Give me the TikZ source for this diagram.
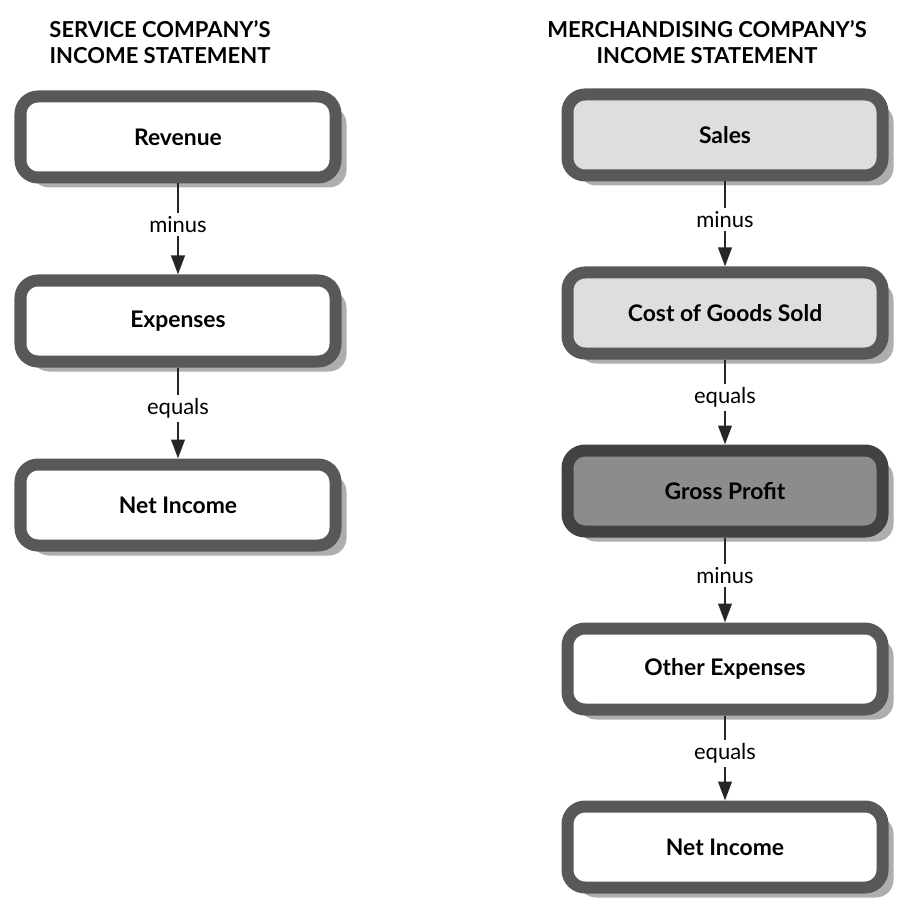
\documentclass[tikz,border=0pt]{standalone}
\usepackage{fontspec}
\setmainfont{Lato}
\usepackage{xcolor}
\definecolor{BoxEdge}{RGB}{88,88,88}
\definecolor{DarkEdge}{RGB}{66,66,66}
\definecolor{ShadowGray}{RGB}{165,165,165}
\definecolor{LightFill}{RGB}{222,222,222}
\definecolor{DarkFill}{RGB}{140,140,140}
\usetikzlibrary{positioning}
\usetikzlibrary{shadows}
\usetikzlibrary{arrows.meta}

\begin{document}
\begin{tikzpicture}[
    box/.style = {
      , rounded corners = 0.35cm
      , minimum width = 6.3cm
      , minimum height = 1.62cm
      , line width = 0.24cm
      , draw = BoxEdge
      , font = \bfseries\fontsize{13}{15}\selectfont
      , drop shadow = {shadow xshift=0.22cm, shadow yshift=-0.2cm, fill=ShadowGray, opacity=0.9}
    }
    , plainbox/.style = {
      box,
      fill=white
    }
    , lightbox/.style = {
      box,
      fill=LightFill
    }
    , darkbox/.style = {
      box,
      draw=DarkEdge,
      fill=DarkFill
    }
    , flowarrow/.style = {
      , -{Triangle[length=3.8mm, width=2.7mm]}
      , line width = 1.4pt
      , draw = black!85
    }
    , steplabel/.style = {
      , fill = white
      , inner sep = 2pt
      , font = \fontsize{12.5}{14}\selectfont
    }
    , heading/.style = {
      , align = center
      , font = \bfseries\fontsize{12.5}{14.5}\selectfont
    }
    , on grid
    , node distance = 3.56cm
    ]
    \useasboundingbox (0,0) rectangle (18.12,-18.28);

    \node[heading] (stitle) at (3.2,-0.84) {SERVICE COMPANY'S\\ INCOME STATEMENT};
    \node[heading] (mtitle) at (14.14,-0.84) {MERCHANDISING COMPANY'S\\ INCOME STATEMENT};

    % service company
    \node[plainbox] (revenue) at (3.56,-2.74) {Revenue};
    \node[plainbox, below = 3.68cm of revenue] (expenses) {Expenses};
    \node[plainbox, below = 3.68cm of expenses] (snet) {Net Income};

    % merchandising company
    \node[lightbox] (sales) at (14.5,-2.7) {Sales};
    \node[lightbox, below = of sales] (cogs) {Cost of Goods Sold};
    \node[darkbox, below = of cogs] (gross) {Gross Profit};
    \node[plainbox, below = of gross] (other) {Other Expenses};
    \node[plainbox, below = of other] (mnet) {Net Income};

    \draw[flowarrow] (revenue) -- node[steplabel, pos=0.45] {minus} (expenses);
    \draw[flowarrow] (expenses) -- node[steplabel, pos=0.45] {equals} (snet);

    \draw[flowarrow] (sales) -- node[steplabel, pos=0.45] {minus} (cogs);
    \draw[flowarrow] (cogs) -- node[steplabel, pos=0.45] {equals} (gross);
    \draw[flowarrow] (gross) -- node[steplabel, pos=0.45] {minus} (other);
    \draw[flowarrow] (other) -- node[steplabel, pos=0.45] {equals} (mnet);
  \end{tikzpicture}
\end{document}
